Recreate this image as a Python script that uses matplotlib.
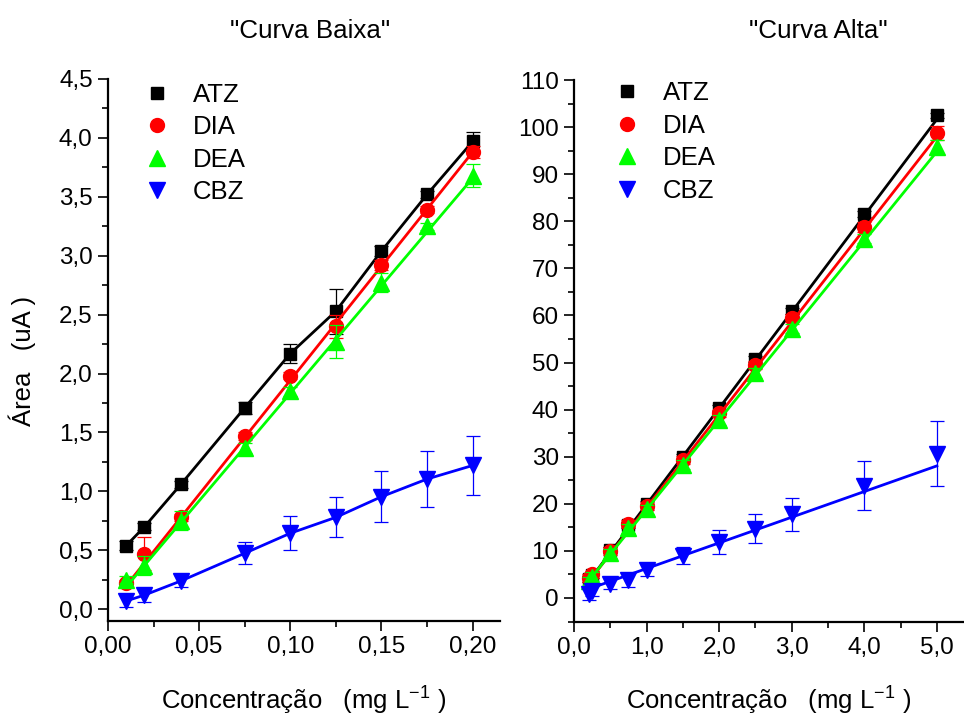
import numpy as np
import matplotlib.pyplot as plt
from matplotlib.ticker import MultipleLocator, FuncFormatter

plt.rcParams['font.family'] = ['Liberation Sans', 'DejaVu Sans']
plt.rcParams['mathtext.fontset'] = 'custom'
plt.rcParams['mathtext.rm'] = 'Liberation Sans'
plt.rcParams['mathtext.it'] = 'Liberation Sans:italic'

# low concentration curve (mg/L)
conc_low = [0.01, 0.02, 0.04, 0.075, 0.10, 0.125, 0.15, 0.175, 0.20]
low_atz = [0.54, 0.70, 1.06, 1.71, 2.17, 2.53, 3.04, 3.52, 3.97]
low_atz_err = [0.04, 0.03, 0.03, 0.05, 0.08, 0.19, 0.04, 0.03, 0.08]
low_dia = [0.22, 0.47, 0.78, 1.47, 1.98, 2.40, 2.92, 3.39, 3.88]
low_dia_err = [0.03, 0.14, 0.03, 0.03, 0.03, 0.10, 0.04, 0.03, 0.05]
low_dea = [0.25, 0.37, 0.75, 1.37, 1.85, 2.27, 2.77, 3.25, 3.68]
low_dea_err = [0.03, 0.08, 0.08, 0.04, 0.04, 0.14, 0.08, 0.03, 0.10]
low_cbz = [0.07, 0.12, 0.24, 0.475, 0.645, 0.78, 0.955, 1.105, 1.22]
low_cbz_err = [0.05, 0.06, 0.05, 0.095, 0.145, 0.17, 0.215, 0.235, 0.25]

# high concentration curve (mg/L)
conc_high = [0.2, 0.25, 0.5, 0.75, 1.0, 1.5, 2.0, 2.5, 3.0, 4.0, 5.0]
high_atz = [4.0, 4.8, 10.2, 15.5, 20.0, 30.0, 40.3, 50.8, 61.0, 81.5, 102.5]
high_atz_err = [0.6, 0.6, 0.6, 0.6, 0.6, 0.6, 0.6, 0.6, 0.6, 0.6, 0.5]
high_dia = [4.2, 5.0, 10.0, 15.8, 19.5, 29.3, 39.2, 49.5, 59.5, 78.8, 98.7]
high_dia_err = [0.8, 0.8, 0.8, 0.8, 0.8, 0.8, 0.8, 0.8, 0.8, 1.0, 1.5]
high_dea = [3.5, 4.5, 9.5, 14.8, 18.8, 28.3, 37.8, 47.8, 57.2, 76.3, 95.8]
high_dea_err = [1.0, 1.0, 1.0, 1.0, 1.0, 1.0, 1.0, 1.0, 1.0, 1.0, 1.5]
high_cbz = [0.8, 1.5, 3.0, 3.8, 6.0, 9.0, 11.9, 14.75, 17.75, 23.8, 30.6]
high_cbz_err = [1.2, 1.0, 1.2, 1.5, 1.3, 1.8, 2.6, 3.05, 3.55, 5.2, 6.9]

# linear fits (slope, intercept)
low_dia_fit = (19.37, 0.006)
low_dea_fit = (18.26, 0.007)
high_atz_fit = (20.45, -0.6)
high_dia_fit = (19.7, -0.5)
high_dea_fit = (19.0, -0.2)
high_cbz_fit = (5.45, 0.8)

names = ['ATZ', 'DIA', 'DEA', 'CBZ']
colors = ['#000000', '#ff0000', '#00ff00', '#0000ff']
markers = ['s', 'o', '^', 'v']
msizes = [9, 10, 11.5, 11.5]


def draw(ax, x, ys, errs, fits):
    handles = []
    for y, e, fit, c, m, ms, n in zip(ys, errs, fits, colors, markers, msizes, names):
        ax.errorbar(x, y, yerr=e, fmt='none', ecolor=c, elinewidth=0.9,
                    capsize=5, capthick=0.9)
        if fit is None:
            ax.plot(x, y, '-', color=c, lw=2)
        else:
            xf = np.array([x[0], x[-1]])
            ax.plot(xf, fit[0] * xf + fit[1], '-', color=c, lw=2)
        h, = ax.plot(x, y, m, ls='none', color=c, ms=ms, mec=c, label=n)
        handles.append(h)
    return handles


def style(ax):
    for s in ['top', 'right']:
        ax.spines[s].set_visible(False)
    for s in ['left', 'bottom']:
        ax.spines[s].set_linewidth(1.6)
    ax.tick_params(which='major', direction='out', length=7.5, width=1.2,
                   labelsize=17.5)
    ax.tick_params(which='minor', direction='out', length=4, width=1.2)


def comma(fmt):
    return FuncFormatter(lambda v, p: (fmt % v).replace('.', ','))


fig = plt.figure(figsize=(9.64, 7.17), dpi=100)
ax1 = fig.add_axes([108 / 964, 1 - 621 / 717, 392 / 964, 542 / 717])
ax2 = fig.add_axes([574 / 964, 1 - 621.5 / 717, 389 / 964, 541.5 / 717])

h1 = draw(ax1, conc_low,
          [low_atz, low_dia, low_dea, low_cbz],
          [low_atz_err, low_dia_err, low_dea_err, low_cbz_err],
          [None, low_dia_fit, low_dea_fit, None])
h2 = draw(ax2, conc_high,
          [high_atz, high_dia, high_dea, high_cbz],
          [high_atz_err, high_dia_err, high_dea_err, high_cbz_err],
          [high_atz_fit, high_dia_fit, high_dea_fit, high_cbz_fit])

style(ax1)
ax1.set_xlim(0, 0.215)
ax1.set_ylim(-0.1, 4.5)
ax1.xaxis.set_major_locator(MultipleLocator(0.05))
ax1.xaxis.set_minor_locator(MultipleLocator(0.025))
ax1.yaxis.set_major_locator(MultipleLocator(0.5))
ax1.yaxis.set_minor_locator(MultipleLocator(0.25))
ax1.xaxis.set_major_formatter(comma('%.2f'))
ax1.yaxis.set_major_formatter(comma('%.1f'))

style(ax2)
ax2.set_xlim(0, 5.36)
ax2.set_ylim(-5, 110)
ax2.xaxis.set_major_locator(MultipleLocator(1.0))
ax2.xaxis.set_minor_locator(MultipleLocator(0.5))
ax2.yaxis.set_major_locator(MultipleLocator(10))
ax2.yaxis.set_minor_locator(MultipleLocator(5))
ax2.xaxis.set_major_formatter(comma('%.1f'))

xlab = 'Concentração   (mg L$^{\\mathregular{-1}}$ )'
ax1.set_xlabel(xlab, fontsize=18.5, labelpad=19)
ax2.set_xlabel(xlab, fontsize=18.5, labelpad=19)
ax1.set_ylabel('Área   (uA )', fontsize=18.5)
ax1.yaxis.set_label_coords(-0.184, 0.48)

ax1.legend(handles=h1, loc='upper left', bbox_to_anchor=(0.092, 0.993),
           frameon=False, fontsize=18.5, handlelength=1.0, handletextpad=0.9,
           labelspacing=0.33, borderpad=0, borderaxespad=0)
ax2.legend(handles=h2, loc='upper left', bbox_to_anchor=(0.103, 0.998),
           frameon=False, fontsize=18.5, handlelength=1.0, handletextpad=0.9,
           labelspacing=0.33, borderpad=0, borderaxespad=0)

fig.text(310 / 964, 1 - 38 / 717, '"Curva Baixa"', fontsize=18.7,
         ha='center', va='baseline')
fig.text(818 / 964, 1 - 38 / 717, '"Curva Alta"', fontsize=18.7,
         ha='center', va='baseline')

fig.savefig('out.png', dpi=100)
